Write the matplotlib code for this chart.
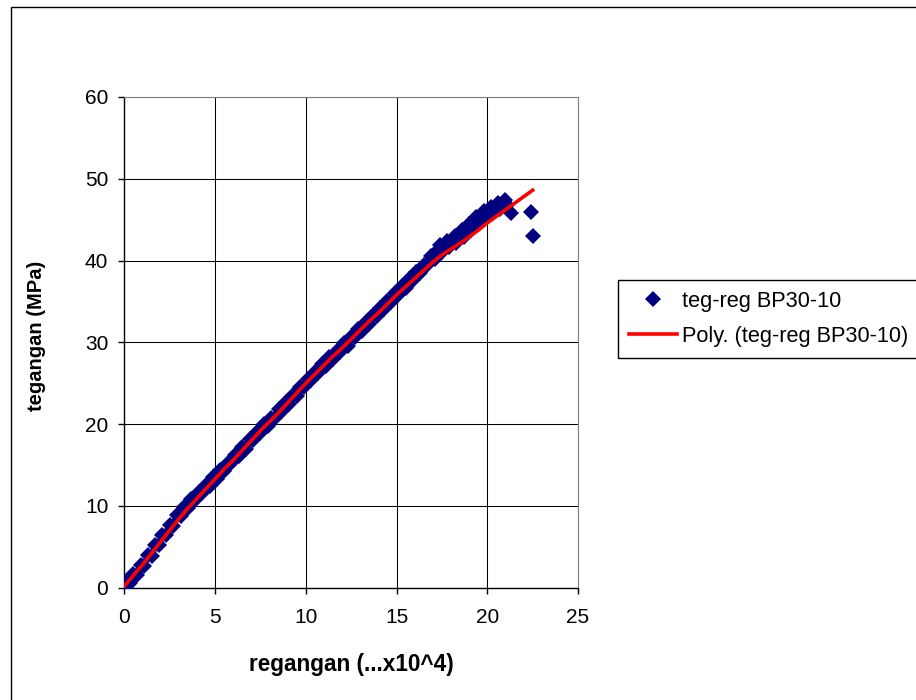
import matplotlib
matplotlib.use('Agg')
from matplotlib import pyplot as plt
from matplotlib.patches import Rectangle

plt.rcParams['font.family'] = ['Liberation Sans', 'DejaVu Sans']

# measured points (regangan x10^4, tegangan MPa)
x_data = [0.0, 0.1, 0.3, 0.5, 0.7, 0.9, 1.1, 1.3, 1.5, 1.7, 1.9, 2.1, 2.3, 2.5, 2.7, 2.9,
          3.1, 3.3, 3.5, 3.7, 3.9, 4.1, 4.3, 4.5, 4.7, 4.9, 5.1, 5.3, 5.5, 5.7, 5.9,
          6.1, 6.3, 6.5, 6.7, 6.9, 7.1, 7.3, 7.5, 7.7, 7.9, 8.1, 8.3, 8.5, 8.7, 8.9,
          9.1, 9.3, 9.5, 9.7, 9.9, 10.1, 10.3, 10.5, 10.7, 10.9, 11.1, 11.3, 11.5,
          11.7, 11.9, 12.1, 12.3, 12.5, 12.7, 12.9, 13.1, 13.3, 13.5, 13.7, 13.9,
          14.1, 14.3, 14.5, 14.7, 14.9, 15.1, 15.3, 15.5, 15.7, 15.9, 16.1, 16.3,
          16.5, 16.7, 16.9, 17.1, 17.3, 17.5, 17.7, 17.9, 18.1, 18.3, 18.5, 18.7,
          18.9, 19.1, 19.3, 19.5, 19.7, 19.9, 20.1, 20.3, 20.5, 20.7, 20.9, 21.1,
          17.4, 17.8, 18.2, 18.6, 19.0, 19.4, 19.8, 20.2, 20.6, 21.0,
          21.3, 22.4, 22.5]
y_data = [0.0, 0.7, 0.6, 1.7, 1.6, 2.8, 2.7, 4.0, 3.9, 5.2, 5.2, 6.4, 6.4, 7.7, 7.6, 8.9,
          8.8, 9.9, 9.7, 10.8, 10.7, 11.7, 11.6, 12.6, 12.4, 13.5, 13.3, 14.4, 14.3, 15.3, 15.2,
          16.2, 16.1, 17.2, 17.0, 18.2, 18.0, 19.0, 18.9, 20.0, 19.8, 20.8, 20.8, 21.8, 21.6, 22.7,
          22.5, 23.6, 23.4, 24.6, 24.5, 25.5, 25.4, 26.4, 26.3, 27.3, 27.1, 28.2, 28.0,
          28.9, 28.8, 29.9, 29.6, 30.7, 30.6, 31.6, 31.4, 32.5, 32.3, 33.3, 33.2,
          34.2, 34.1, 35.1, 34.9, 36.0, 35.8, 36.9, 36.7, 37.7, 37.6, 38.6, 38.5,
          39.5, 39.4, 40.5, 40.2, 41.3, 41.0, 41.9, 41.6, 42.5, 42.2, 43.2, 42.9,
          43.9, 43.7, 44.7, 44.5, 45.4, 45.2, 46.2, 45.8, 46.6, 46.3, 47.1, 46.8,
          41.9, 42.4, 43.0, 43.7, 44.5, 45.3, 46.0, 46.6, 47.0, 47.4,
          45.8, 45.9, 43.0]

# polynomial trendline as drawn
x_poly = [0.0, 0.5, 1.0, 1.5, 2.0, 2.5, 3.0, 3.5, 4.0, 4.5, 5.0, 5.5, 6.0, 6.5, 7.0, 7.5,
          8.0, 8.5, 9.0, 9.5, 10.0, 10.5, 11.0, 11.5, 12.0, 12.5, 13.0, 13.5, 14.0, 14.5,
          15.0, 15.5, 16.0, 16.5, 17.0, 17.5, 18.0, 18.5, 19.0, 19.5, 20.0, 20.5, 21.0,
          21.5, 22.0, 22.5]
y_poly = [0.2, 1.5, 2.8, 4.2, 5.6, 7.0, 8.4, 9.7, 10.9, 12.1, 13.3, 14.5, 15.6, 16.8, 18.0, 19.2,
          20.3, 21.4, 22.6, 23.8, 25.0, 26.1, 27.2, 28.3, 29.3, 30.4, 31.5, 32.6, 33.6, 34.7,
          35.8, 36.8, 37.8, 38.8, 39.8, 40.7, 41.4, 42.1, 42.9, 43.7, 44.6, 45.4, 46.2,
          47.0, 47.8, 48.6]

xticks = [0, 5, 10, 15, 20, 25]
yticks = [0, 10, 20, 30, 40, 50, 60]

fig = plt.figure(figsize=(9.16, 7), dpi=100)
fig.patches.append(Rectangle((11 / 916, -0.01), 1.0, 1 - 7 / 700 + 0.01, transform=fig.transFigure,
                             fill=False, edgecolor='black', linewidth=1.0))

ax = fig.add_axes([0.1357, 0.1604, 0.4953, 0.7011])
ax.plot(x_data, y_data, linestyle='none', marker='D', markersize=8.2,
        color='#000080', markeredgewidth=0, label='teg-reg BP30-10', zorder=3)
ax.plot(x_poly, y_poly, color='#FF0000', linewidth=2.6,
        label='Poly. (teg-reg BP30-10)', zorder=4)

ax.set_xlim(0, 25)
ax.set_ylim(0, 60)
ax.set_xticks(xticks)
ax.set_yticks(yticks)
ax.grid(True, color='black', linewidth=0.75)
ax.set_axisbelow(True)
ax.tick_params(direction='out', length=4.5, width=1, labelsize=15)
ax.tick_params(axis='x', pad=10)
ax.tick_params(axis='y', pad=7)
for s in ['top', 'right']:
    ax.spines[s].set_color('#808080')
for s in ['left', 'bottom']:
    ax.spines[s].set_linewidth(1.0)

ax.set_xlabel('regangan (...x10^4)', fontsize=16.3, fontweight='bold', labelpad=19)
ax.set_ylabel('tegangan (MPa)', fontsize=14.5, fontweight='bold', labelpad=28)
ax.yaxis.label.set_y(0.513)

leg = fig.legend(loc='upper left', bbox_to_anchor=(618 / 916, 1 - 280 / 700),
                 fontsize=15.7, frameon=True, fancybox=False, framealpha=1,
                 edgecolor='black', borderpad=0.5, handlelength=2.2,
                 handletextpad=0.25, labelspacing=0.65, borderaxespad=0)
leg.get_frame().set_linewidth(1.0)

fig.savefig('out.png', dpi=100)
